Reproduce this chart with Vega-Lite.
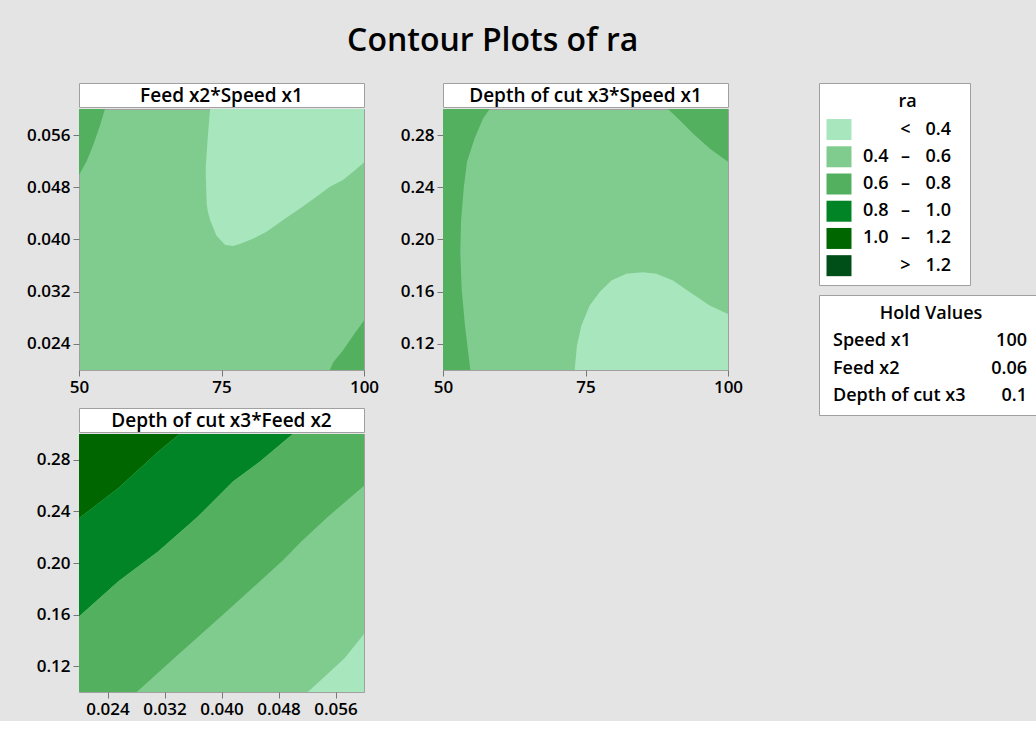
{
  "$schema": "https://vega.github.io/schema/vega-lite/v6.json",
  "background": "#e4e4e4",
  "padding": {"left": 25, "top": 24, "right": 0, "bottom": 0},
  "title": {"text": "Contour Plots of ra", "fontSize": 32, "font": "Open Sans", "fontWeight": 600, "color": "#000", "anchor": "middle", "offset": 25, "dx": -40},
  "datasets": {
    "p1": [
      {"region": "1a", "ra": "< 0.4", "x": 72.25, "y": 0.0497, "y2": 0.0512},
      {"region": "1a", "ra": "< 0.4", "x": 72.4, "y": 0.0455, "y2": 0.0532},
      {"region": "1a", "ra": "< 0.4", "x": 72.6, "y": 0.0443, "y2": 0.0558},
      {"region": "1a", "ra": "< 0.4", "x": 73.0, "y": 0.043, "y2": 0.06},
      {"region": "1a", "ra": "< 0.4", "x": 74.1, "y": 0.0406, "y2": 0.06},
      {"region": "1a", "ra": "< 0.4", "x": 75.6, "y": 0.0392, "y2": 0.06},
      {"region": "1a", "ra": "< 0.4", "x": 77.0, "y": 0.039, "y2": 0.06},
      {"region": "1a", "ra": "< 0.4", "x": 78.2, "y": 0.0393, "y2": 0.06},
      {"region": "1a", "ra": "< 0.4", "x": 80.5, "y": 0.0401, "y2": 0.06},
      {"region": "1a", "ra": "< 0.4", "x": 82.9, "y": 0.0412, "y2": 0.06},
      {"region": "1a", "ra": "< 0.4", "x": 85.8, "y": 0.043, "y2": 0.06},
      {"region": "1a", "ra": "< 0.4", "x": 88.7, "y": 0.0447, "y2": 0.06},
      {"region": "1a", "ra": "< 0.4", "x": 91.6, "y": 0.0465, "y2": 0.06},
      {"region": "1a", "ra": "< 0.4", "x": 94.0, "y": 0.0481, "y2": 0.06},
      {"region": "1a", "ra": "< 0.4", "x": 96.3, "y": 0.0491, "y2": 0.06},
      {"region": "1a", "ra": "< 0.4", "x": 98.1, "y": 0.0504, "y2": 0.06},
      {"region": "1a", "ra": "< 0.4", "x": 100, "y": 0.0518, "y2": 0.06},
      {"region": "1b", "ra": "0.6 – 0.8", "x": 50, "y": 0.0499, "y2": 0.06},
      {"region": "1b", "ra": "0.6 – 0.8", "x": 51.3, "y": 0.0519, "y2": 0.06},
      {"region": "1b", "ra": "0.6 – 0.8", "x": 52.5, "y": 0.0545, "y2": 0.06},
      {"region": "1b", "ra": "0.6 – 0.8", "x": 53.7, "y": 0.0575, "y2": 0.06},
      {"region": "1b", "ra": "0.6 – 0.8", "x": 54.55, "y": 0.06, "y2": 0.06},
      {"region": "1c", "ra": "0.6 – 0.8", "x": 94.0, "y": 0.02, "y2": 0.02},
      {"region": "1c", "ra": "0.6 – 0.8", "x": 94.6, "y": 0.02, "y2": 0.0212},
      {"region": "1c", "ra": "0.6 – 0.8", "x": 96.3, "y": 0.02, "y2": 0.023},
      {"region": "1c", "ra": "0.6 – 0.8", "x": 98.1, "y": 0.02, "y2": 0.0253},
      {"region": "1c", "ra": "0.6 – 0.8", "x": 100, "y": 0.02, "y2": 0.0276}
    ],
    "p2": [
      {"region": "2a", "ra": "0.6 – 0.8", "y": 0.1, "x": 50, "x2": 54.8},
      {"region": "2a", "ra": "0.6 – 0.8", "y": 0.134, "x": 50, "x2": 53.86},
      {"region": "2a", "ra": "0.6 – 0.8", "y": 0.1622, "x": 50, "x2": 53.27},
      {"region": "2a", "ra": "0.6 – 0.8", "y": 0.1904, "x": 50, "x2": 53.04},
      {"region": "2a", "ra": "0.6 – 0.8", "y": 0.2134, "x": 50, "x2": 53.16},
      {"region": "2a", "ra": "0.6 – 0.8", "y": 0.2391, "x": 50, "x2": 53.63},
      {"region": "2a", "ra": "0.6 – 0.8", "y": 0.2595, "x": 50, "x2": 54.21},
      {"region": "2a", "ra": "0.6 – 0.8", "y": 0.2775, "x": 50, "x2": 55.56},
      {"region": "2a", "ra": "0.6 – 0.8", "y": 0.2928, "x": 50, "x2": 57.02},
      {"region": "2a", "ra": "0.6 – 0.8", "y": 0.3, "x": 50, "x2": 58.19},
      {"region": "2b", "ra": "0.6 – 0.8", "x": 89.47, "y": 0.3, "y2": 0.3},
      {"region": "2b", "ra": "0.6 – 0.8", "x": 91.5, "y": 0.2915, "y2": 0.3},
      {"region": "2b", "ra": "0.6 – 0.8", "x": 93.86, "y": 0.2813, "y2": 0.3},
      {"region": "2b", "ra": "0.6 – 0.8", "x": 96.78, "y": 0.2698, "y2": 0.3},
      {"region": "2b", "ra": "0.6 – 0.8", "x": 100, "y": 0.2595, "y2": 0.3},
      {"region": "2c", "ra": "< 0.4", "x": 73.1, "y": 0.1, "y2": 0.1},
      {"region": "2c", "ra": "< 0.4", "x": 73.5, "y": 0.1, "y2": 0.1187},
      {"region": "2c", "ra": "< 0.4", "x": 74.27, "y": 0.1, "y2": 0.134},
      {"region": "2c", "ra": "< 0.4", "x": 75.73, "y": 0.1, "y2": 0.1494},
      {"region": "2c", "ra": "< 0.4", "x": 77.49, "y": 0.1, "y2": 0.1597},
      {"region": "2c", "ra": "< 0.4", "x": 79.53, "y": 0.1, "y2": 0.1686},
      {"region": "2c", "ra": "< 0.4", "x": 82.16, "y": 0.1, "y2": 0.1737},
      {"region": "2c", "ra": "< 0.4", "x": 85.09, "y": 0.1, "y2": 0.175},
      {"region": "2c", "ra": "< 0.4", "x": 87.43, "y": 0.1, "y2": 0.1737},
      {"region": "2c", "ra": "< 0.4", "x": 90.35, "y": 0.1, "y2": 0.1686},
      {"region": "2c", "ra": "< 0.4", "x": 93.27, "y": 0.1, "y2": 0.1597},
      {"region": "2c", "ra": "< 0.4", "x": 96.78, "y": 0.1, "y2": 0.1494},
      {"region": "2c", "ra": "< 0.4", "x": 100, "y": 0.1, "y2": 0.143}
    ],
    "p3": [
      {"region": "3a", "ra": "1.0 – 1.2", "x": 0.02, "y": 0.2347, "y2": 0.3},
      {"region": "3a", "ra": "1.0 – 1.2", "x": 0.0255, "y": 0.2579, "y2": 0.3},
      {"region": "3a", "ra": "1.0 – 1.2", "x": 0.0311, "y": 0.2863, "y2": 0.3},
      {"region": "3a", "ra": "1.0 – 1.2", "x": 0.0341, "y": 0.3, "y2": 0.3},
      {"region": "3b", "ra": "0.8 – 1.0", "x": 0.02, "y": 0.1586, "y2": 0.2347},
      {"region": "3b", "ra": "0.8 – 1.0", "x": 0.0255, "y": 0.1857, "y2": 0.2579},
      {"region": "3b", "ra": "0.8 – 1.0", "x": 0.0311, "y": 0.2089, "y2": 0.2863},
      {"region": "3b", "ra": "0.8 – 1.0", "x": 0.0341, "y": 0.2234, "y2": 0.3},
      {"region": "3b", "ra": "0.8 – 1.0", "x": 0.0365, "y": 0.235, "y2": 0.3},
      {"region": "3b", "ra": "0.8 – 1.0", "x": 0.0416, "y": 0.2631, "y2": 0.3},
      {"region": "3b", "ra": "0.8 – 1.0", "x": 0.0454, "y": 0.2786, "y2": 0.3},
      {"region": "3b", "ra": "0.8 – 1.0", "x": 0.05, "y": 0.3, "y2": 0.3},
      {"region": "3c", "ra": "0.6 – 0.8", "x": 0.02, "y": 0.1, "y2": 0.1586},
      {"region": "3c", "ra": "0.6 – 0.8", "x": 0.0255, "y": 0.1, "y2": 0.1857},
      {"region": "3c", "ra": "0.6 – 0.8", "x": 0.0281, "y": 0.1, "y2": 0.1965},
      {"region": "3c", "ra": "0.6 – 0.8", "x": 0.0311, "y": 0.1149, "y2": 0.2089},
      {"region": "3c", "ra": "0.6 – 0.8", "x": 0.0339, "y": 0.1289, "y2": 0.2224},
      {"region": "3c", "ra": "0.6 – 0.8", "x": 0.0365, "y": 0.1417, "y2": 0.235},
      {"region": "3c", "ra": "0.6 – 0.8", "x": 0.0416, "y": 0.1669, "y2": 0.2631},
      {"region": "3c", "ra": "0.6 – 0.8", "x": 0.0428, "y": 0.1728, "y2": 0.268},
      {"region": "3c", "ra": "0.6 – 0.8", "x": 0.0454, "y": 0.1859, "y2": 0.2786},
      {"region": "3c", "ra": "0.6 – 0.8", "x": 0.0487, "y": 0.2025, "y2": 0.294},
      {"region": "3c", "ra": "0.6 – 0.8", "x": 0.05, "y": 0.2098, "y2": 0.3},
      {"region": "3c", "ra": "0.6 – 0.8", "x": 0.0512, "y": 0.2166, "y2": 0.3},
      {"region": "3c", "ra": "0.6 – 0.8", "x": 0.0547, "y": 0.2347, "y2": 0.3},
      {"region": "3c", "ra": "0.6 – 0.8", "x": 0.06, "y": 0.2598, "y2": 0.3},
      {"region": "3d", "ra": "< 0.4", "x": 0.0521, "y": 0.1, "y2": 0.1},
      {"region": "3d", "ra": "< 0.4", "x": 0.0545, "y": 0.1, "y2": 0.112},
      {"region": "3d", "ra": "< 0.4", "x": 0.0573, "y": 0.1, "y2": 0.1263},
      {"region": "3d", "ra": "< 0.4", "x": 0.06, "y": 0.1, "y2": 0.145}
    ],
    "legend": [
      {"ra": "ra", "lo": "", "sym": "", "hi": ""},
      {"ra": "< 0.4", "lo": "", "sym": "<", "hi": "0.4"},
      {"ra": "0.4 – 0.6", "lo": "0.4", "sym": "–", "hi": "0.6"},
      {"ra": "0.6 – 0.8", "lo": "0.6", "sym": "–", "hi": "0.8"},
      {"ra": "0.8 – 1.0", "lo": "0.8", "sym": "–", "hi": "1.0"},
      {"ra": "1.0 – 1.2", "lo": "1.0", "sym": "–", "hi": "1.2"},
      {"ra": "> 1.2", "lo": "", "sym": ">", "hi": "1.2"}
    ],
    "hold": [
      {"name": "Hold Values", "value": ""},
      {"name": "Speed x1", "value": "100"},
      {"name": "Feed x2", "value": "0.06"},
      {"name": "Depth of cut x3", "value": "0.1"}
    ]
  },
  "spacing": 74,
  "hconcat": [
    {
      "spacing": 8,
      "vconcat": [
        {
          "spacing": 17,
          "hconcat": [
            {
              "spacing": 0,
              "vconcat": [
                {
                  "width": 285, "height": 24,
                  "view": {"fill": "white", "stroke": "#a0a0a0"},
                  "data": {"values": [{"label": "Feed x2*Speed x1"}]},
                  "mark": {"type": "text", "baseline": "middle", "fontSize": 19, "dy": 1},
                  "encoding": {"text": {"field": "label"}}
                },
                {
                  "width": 285, "height": 261,
                  "view": {"fill": "#80cc8f", "stroke": "#a0a0a0"},
                  "data": {"name": "p1"},
                  "mark": {"type": "area", "orient": "vertical", "clip": true},
                  "encoding": {
                    "x": {"field": "x", "type": "quantitative", "scale": {"domain": [50, 100], "nice": false, "zero": false}, "axis": {"values": [50, 75, 100], "labelFlush": false}},
                    "y": {"field": "y", "type": "quantitative", "scale": {"domain": [0.02, 0.06], "nice": false, "zero": false}, "axis": {"values": [0.024, 0.032, 0.04, 0.048, 0.056], "format": ".3f"}},
                    "y2": {"field": "y2"},
                    "color": {"field": "ra", "type": "nominal", "legend": null, "scale": {"domain": ["< 0.4", "0.4 – 0.6", "0.6 – 0.8", "0.8 – 1.0", "1.0 – 1.2", "> 1.2"], "range": ["#a8e6be", "#80cc8f", "#53b05f", "#008426", "#006600", "#004f18"]}},
                    "detail": {"field": "region"}
                  }
                }
              ]
            },
            {
              "spacing": 0,
              "vconcat": [
                {
                  "width": 285, "height": 24,
                  "view": {"fill": "white", "stroke": "#a0a0a0"},
                  "data": {"values": [{"label": "Depth of cut x3*Speed x1"}]},
                  "mark": {"type": "text", "baseline": "middle", "fontSize": 19, "dy": 1},
                  "encoding": {"text": {"field": "label"}}
                },
                {
                  "width": 285, "height": 261,
                  "view": {"fill": "#80cc8f", "stroke": "#a0a0a0"},
                  "data": {"name": "p2"},
                  "layer": [
                    {
                      "transform": [{"filter": "isValid(datum.y2)"}],
                      "mark": {"type": "area", "orient": "vertical", "clip": true},
                      "encoding": {
                        "x": {"field": "x", "type": "quantitative", "scale": {"domain": [50, 100], "nice": false, "zero": false}, "axis": {"values": [50, 75, 100], "labelFlush": false}},
                        "y": {"field": "y", "type": "quantitative", "scale": {"domain": [0.1, 0.3], "nice": false, "zero": false}, "axis": {"values": [0.12, 0.16, 0.2, 0.24, 0.28], "format": ".2f"}},
                        "y2": {"field": "y2"},
                        "color": {"field": "ra", "type": "nominal", "legend": null, "scale": {"domain": ["< 0.4", "0.4 – 0.6", "0.6 – 0.8", "0.8 – 1.0", "1.0 – 1.2", "> 1.2"], "range": ["#a8e6be", "#80cc8f", "#53b05f", "#008426", "#006600", "#004f18"]}},
                        "detail": {"field": "region"}
                      }
                    },
                    {
                      "transform": [{"filter": "isValid(datum.x2)"}],
                      "mark": {"type": "area", "orient": "horizontal", "clip": true},
                      "encoding": {
                        "y": {"field": "y", "type": "quantitative"},
                        "x": {"field": "x", "type": "quantitative"},
                        "x2": {"field": "x2"},
                        "color": {"field": "ra", "type": "nominal", "legend": null},
                        "detail": {"field": "region"}
                      }
                    }
                  ]
                }
              ]
            }
          ]
        },
        {
          "spacing": 0,
          "vconcat": [
            {
              "width": 285, "height": 24,
              "view": {"fill": "white", "stroke": "#a0a0a0"},
              "data": {"values": [{"label": "Depth of cut x3*Feed x2"}]},
              "mark": {"type": "text", "baseline": "middle", "fontSize": 19, "dy": 1},
              "encoding": {"text": {"field": "label"}}
            },
            {
              "width": 285, "height": 258,
              "view": {"fill": "#80cc8f", "stroke": "#a0a0a0"},
              "data": {"name": "p3"},
              "mark": {"type": "area", "orient": "vertical", "clip": true},
              "encoding": {
                "x": {"field": "x", "type": "quantitative", "scale": {"domain": [0.02, 0.06], "nice": false, "zero": false}, "axis": {"values": [0.024, 0.032, 0.04, 0.048, 0.056], "format": ".3f", "labelFlush": false}},
                "y": {"field": "y", "type": "quantitative", "scale": {"domain": [0.1, 0.3], "nice": false, "zero": false}, "axis": {"values": [0.12, 0.16, 0.2, 0.24, 0.28], "format": ".2f"}},
                "y2": {"field": "y2"},
                "color": {"field": "ra", "type": "nominal", "legend": null, "scale": {"domain": ["< 0.4", "0.4 – 0.6", "0.6 – 0.8", "0.8 – 1.0", "1.0 – 1.2", "> 1.2"], "range": ["#a8e6be", "#80cc8f", "#53b05f", "#008426", "#006600", "#004f18"]}},
                "detail": {"field": "region"}
              }
            }
          ]
        }
      ]
    },
    {
      "spacing": 8,
      "vconcat": [
        {
          "width": 151, "height": 202,
          "view": {"fill": "white", "stroke": "#a0a0a0"},
          "data": {"name": "legend"},
          "encoding": {
            "y": {"field": "ra", "type": "nominal", "scale": {"type": "point", "domain": ["ra", "< 0.4", "0.4 – 0.6", "0.6 – 0.8", "0.8 – 1.0", "1.0 – 1.2", "> 1.2"], "padding": 0.71}, "axis": null}
          },
          "layer": [
            {
              "transform": [{"filter": "datum.ra === 'ra'"}],
              "mark": {"type": "text", "baseline": "middle", "align": "center", "dx": 13},
              "encoding": {"text": {"field": "ra"}}
            },
            {
              "transform": [{"filter": "datum.ra !== 'ra'"}],
              "mark": {"type": "point", "filled": true, "opacity": 1, "size": 441, "strokeWidth": 0, "shape": "M-1.19,-1H1.19V1H-1.19Z", "xOffset": -55.5},
              "encoding": {"color": {"field": "ra", "type": "nominal", "legend": null, "scale": {"domain": ["< 0.4", "0.4 – 0.6", "0.6 – 0.8", "0.8 – 1.0", "1.0 – 1.2", "> 1.2"], "range": ["#a8e6be", "#80cc8f", "#53b05f", "#008426", "#006600", "#004f18"]}}}
            },
            {
              "transform": [{"filter": "datum.ra !== 'ra'"}],
              "mark": {"type": "text", "baseline": "middle", "align": "right", "dx": -6},
              "encoding": {"text": {"field": "lo"}}
            },
            {
              "transform": [{"filter": "datum.ra !== 'ra'"}],
              "mark": {"type": "text", "baseline": "middle", "align": "center", "dx": 11},
              "encoding": {"text": {"field": "sym"}}
            },
            {
              "transform": [{"filter": "datum.ra !== 'ra'"}],
              "mark": {"type": "text", "baseline": "middle", "align": "left", "dx": 31},
              "encoding": {"text": {"field": "hi"}}
            }
          ]
        },
        {
          "width": 220, "height": 120,
          "view": {"fill": "white", "stroke": "#a0a0a0"},
          "data": {"name": "hold"},
          "encoding": {
            "y": {"field": "name", "type": "nominal", "scale": {"type": "point", "domain": ["Hold Values", "Speed x1", "Feed x2", "Depth of cut x3"], "padding": 0.7}, "axis": null}
          },
          "layer": [
            {
              "transform": [{"filter": "datum.name === 'Hold Values'"}],
              "mark": {"type": "text", "baseline": "middle", "align": "center", "dx": 2},
              "encoding": {"text": {"field": "name"}}
            },
            {
              "transform": [{"filter": "datum.name !== 'Hold Values'"}],
              "mark": {"type": "text", "baseline": "middle", "align": "left", "dx": -96},
              "encoding": {"text": {"field": "name"}}
            },
            {
              "transform": [{"filter": "datum.name !== 'Hold Values'"}],
              "mark": {"type": "text", "baseline": "middle", "align": "right", "dx": 98},
              "encoding": {"text": {"field": "value"}}
            }
          ]
        }
      ]
    }
  ],
  "resolve": {"scale": {"x": "independent", "y": "independent"}},
  "config": {
    "font": "Open Sans",
    "view": {"stroke": "#a0a0a0"},
    "axisX": {"minExtent": 28, "maxExtent": 28},
    "axisY": {"minExtent": 45, "maxExtent": 45},
    "axis": {"labelFont": "Open Sans", "labelFontSize": 17, "labelFontWeight": 600, "labelColor": "#000", "domain": false, "grid": false, "tickColor": "#777", "tickSize": 6, "labelPadding": 3, "title": null},
    "text": {"font": "Open Sans", "fontSize": 18, "fontWeight": 600, "color": "#000"}
  }
}
